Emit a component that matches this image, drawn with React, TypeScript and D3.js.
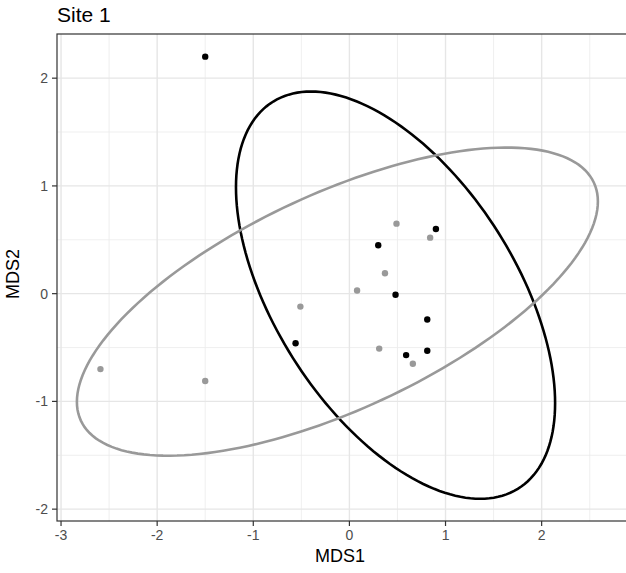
import React, { useRef, useEffect } from "react";
import * as d3 from "d3";

// MDS scores
const blackX = [-1.5, 0.9, 0.3, 0.48, 0.81, -0.56, 0.81, 0.59];
const blackY = [2.2, 0.6, 0.45, -0.01, -0.24, -0.46, -0.53, -0.57];
const grayX = [0.49, 0.84, 0.37, 0.08, -0.51, 0.31, 0.66, -2.59, -1.5];
const grayY = [0.65, 0.52, 0.19, 0.03, -0.12, -0.51, -0.65, -0.7, -0.81];

// ellipses: centre, half-width in x, half-height in y, correlation
const ellipseGroups = ["black", "gray"];
const ellipseCx = [0.48, -0.125];
const ellipseCy = [-0.014, -0.074];
const ellipseHx = [1.66, 2.71];
const ellipseHy = [1.89, 1.43];
const ellipseRho = [-0.53, 0.65];

const xTicks = [-3, -2, -1, 0, 1, 2];
const yTicks = [-2, -1, 0, 1, 2];

const colors = { black: "#000000", gray: "#999999" };

const App = () => {
  const svgRef = useRef(null);
  const width = 626;
  const height = 573;

  useEffect(() => {
    const margin = { top: 34, right: -6, bottom: 52, left: 57 };
    const svg = d3.select(svgRef.current);
    svg.selectAll("*").remove();

    const x = d3
      .scaleLinear()
      .domain([-3.042, 2.94])
      .range([margin.left, width - margin.right]);
    const y = d3
      .scaleLinear()
      .domain([-2.11, 2.41])
      .range([height - margin.bottom, margin.top]);

    const [x0, x1] = x.range();
    const [y1, y0] = y.range();

    svg.append("rect").attr("width", width).attr("height", height).attr("fill", "#fff");

    // grid
    const minorX = d3.range(-2.5, 3, 1);
    const minorY = d3.range(-1.5, 2.5, 1);
    const grid = svg.append("g");
    grid.selectAll(".mx").data(minorX).join("line")
      .attr("x1", (d) => x(d)).attr("x2", (d) => x(d)).attr("y1", y0).attr("y2", y1)
      .attr("stroke", "#ebebeb").attr("stroke-width", 0.8);
    grid.selectAll(".my").data(minorY).join("line")
      .attr("y1", (d) => y(d)).attr("y2", (d) => y(d)).attr("x1", x0).attr("x2", x1)
      .attr("stroke", "#ebebeb").attr("stroke-width", 0.8);
    grid.selectAll(".gx").data(xTicks).join("line")
      .attr("x1", (d) => x(d)).attr("x2", (d) => x(d)).attr("y1", y0).attr("y2", y1)
      .attr("stroke", "#e6e6e6").attr("stroke-width", 1.4);
    grid.selectAll(".gy").data(yTicks).join("line")
      .attr("y1", (d) => y(d)).attr("y2", (d) => y(d)).attr("x1", x0).attr("x2", x1)
      .attr("stroke", "#e6e6e6").attr("stroke-width", 1.4);

    // ellipses
    const ts = d3.range(0, 2 * Math.PI + 0.01, Math.PI / 90);
    const line = d3.line().curve(d3.curveLinearClosed);
    ellipseGroups.forEach((g, i) => {
      const pts = ts.map((t) => {
        const ex = ellipseCx[i] + ellipseHx[i] * Math.cos(t);
        const ey =
          ellipseCy[i] +
          ellipseHy[i] *
            (ellipseRho[i] * Math.cos(t) + Math.sqrt(1 - ellipseRho[i] ** 2) * Math.sin(t));
        return [x(ex), y(ey)];
      });
      svg.append("path")
        .attr("d", line(pts))
        .attr("fill", "none")
        .attr("stroke", colors[g])
        .attr("stroke-width", 2.6);
    });

    // points
    const black = blackX.map((v, i) => ({ x: v, y: blackY[i] }));
    const gray = grayX.map((v, i) => ({ x: v, y: grayY[i] }));
    svg.append("g").selectAll("circle").data(gray).join("circle")
      .attr("cx", (d) => x(d.x)).attr("cy", (d) => y(d.y)).attr("r", 3.2)
      .attr("fill", colors.gray);
    svg.append("g").selectAll("circle").data(black).join("circle")
      .attr("cx", (d) => x(d.x)).attr("cy", (d) => y(d.y)).attr("r", 3.2)
      .attr("fill", colors.black);

    // panel border
    svg.append("rect")
      .attr("x", x0).attr("y", y0).attr("width", x1 - x0).attr("height", y1 - y0)
      .attr("fill", "none").attr("stroke", "#333").attr("stroke-width", 1.2);

    // axes
    const xAxis = svg.append("g");
    xAxis.selectAll("line").data(xTicks).join("line")
      .attr("x1", (d) => x(d)).attr("x2", (d) => x(d)).attr("y1", y1).attr("y2", y1 + 5)
      .attr("stroke", "#333").attr("stroke-width", 1.2);
    xAxis.selectAll("text").data(xTicks).join("text")
      .attr("x", (d) => x(d)).attr("y", y1 + 19)
      .attr("text-anchor", "middle").attr("fill", "#4d4d4d").attr("font-size", 14)
      .text((d) => d);

    const yAxis = svg.append("g");
    yAxis.selectAll("line").data(yTicks).join("line")
      .attr("y1", (d) => y(d)).attr("y2", (d) => y(d)).attr("x1", x0 - 5).attr("x2", x0)
      .attr("stroke", "#333").attr("stroke-width", 1.2);
    yAxis.selectAll("text").data(yTicks).join("text")
      .attr("x", x0 - 9).attr("y", (d) => y(d)).attr("dy", "0.35em")
      .attr("text-anchor", "end").attr("fill", "#4d4d4d").attr("font-size", 14)
      .text((d) => d);

    svg.append("text")
      .attr("x", 340).attr("y", 562)
      .attr("text-anchor", "middle").attr("font-size", 18).attr("fill", "#000")
      .text("MDS1");
    svg.append("text")
      .attr("transform", `translate(19,274) rotate(-90)`)
      .attr("text-anchor", "middle").attr("font-size", 18).attr("fill", "#000")
      .text("MDS2");
    svg.append("text")
      .attr("x", x0).attr("y", 22)
      .attr("font-size", 21).attr("fill", "#000")
      .text("Site 1");
  }, []);

  return (
    <svg
      ref={svgRef}
      width={width}
      height={height}
      style={{ position: "absolute", left: 0, top: 0, fontFamily: "Liberation Sans, Arial, sans-serif" }}
    />
  );
};

export default App;
